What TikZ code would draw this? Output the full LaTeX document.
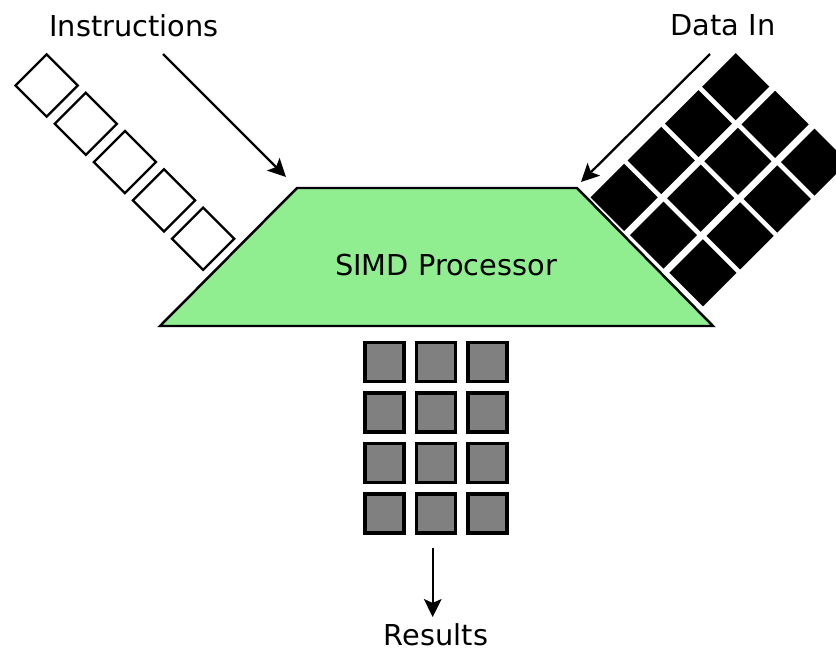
\documentclass[tikz,border=0pt]{standalone}
\usepackage{fontspec}
\setmainfont{DejaVu Sans}
\usepackage{xcolor}
\usetikzlibrary{arrows.meta}
\definecolor{procgreen}{HTML}{90EE90}
\definecolor{resgray}{HTML}{808080}

\begin{document}
\begin{tikzpicture}[x=0.02cm,y=-0.02cm, >={Stealth[length=10.2pt,width=10pt,inset=2.2pt]},
    lbl/.style={inner sep=0pt, anchor=base, font=\fontsize{16.4}{20}\selectfont},
    instr/.style={draw, line width=1.3pt, rotate=45, minimum size=0.88cm, inner sep=0pt},
    datum/.style={fill=black, rotate=45, minimum size=0.95cm, inner sep=0pt},
    result/.style={draw, fill=resgray, line width=2pt, minimum size=0.78cm, inner sep=0pt},
    flow/.style={->, line width=1.3pt}]
    \useasboundingbox (0,0) rectangle (836,650);

    % Processor
    \draw[fill=procgreen, line width=1.4pt, line join=miter]
        (297,188) -- (577,188) -- (713,326) -- (160,326) -- cycle;
    \node[lbl] (proc) at (446,275) {SIMD Processor};

    % Instruction stream
    \foreach \k in {0,...,4}
        \node[instr] (i\k) at (46.7+39.1*\k, 85.5+38.3*\k) {};
    \node[lbl] (instr) at (134,36) {Instructions};
    \coordinate (instr-from) at (163,54);
    \coordinate (instr-to) at (286,177);
    \draw[flow] (instr-from) -- (instr-to);

    % Data grid
    \foreach \i in {0,...,3}
        \foreach \j in {0,...,2}
            \node[datum] (d\i\j) at (735.7+39.4*\j-37.2*\i, 86.7+37.7*\j+36.9*\i) {};
    \node[lbl] (data) at (723,35) {Data In};
    \coordinate (data-from) at (710,54);
    \coordinate (data-to) at (581,182);
    \draw[flow] (data-from) -- (data-to);

    % Results
    \foreach \i in {0,...,3}
        \foreach \j in {0,...,2}
            \node[result] (r\i\j) at (384.5+51.5*\j, 362+50.5*\i) {};
    \node[lbl] (res) at (436,645) {Results};
    \coordinate (res-from) at (432.7,548);
    \coordinate (res-to) at (432.7,617);
    \draw[flow] (res-from) -- (res-to);
\end{tikzpicture}
\end{document}
